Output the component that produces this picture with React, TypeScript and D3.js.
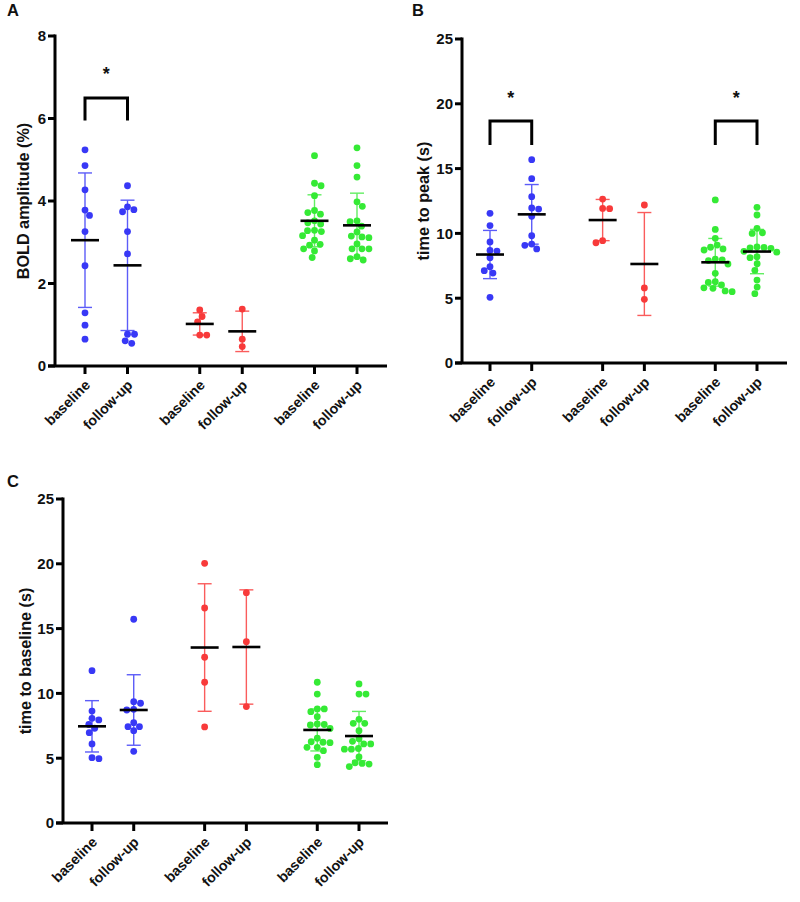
import React from 'react';
import * as d3 from 'd3';

// ---------- categories ----------
const CATEGORIES = ['baseline', 'follow-up', 'baseline', 'follow-up', 'baseline', 'follow-up'];
const CATEGORY_POS = [0, 1, 2.7, 3.7, 5.4, 6.4];
const DOT_COLORS = ['#3838f6', '#3838f6', '#f83a3a', '#f83a3a', '#35ea35', '#35ea35'];
const BAR_COLORS = ['#5c5cf8', '#5c5cf8', '#fa5c5c', '#fa5c5c', '#62ee62', '#62ee62'];

// ---------- Panel A: BOLD amplitude (%) ----------
const ampBlueBase = [5.24, 4.86, 4.27, 3.78, 3.65, 3.26, 2.43, 1.29, 0.99, 0.65];
const ampBlueFollow = [4.37, 3.86, 3.79, 3.74, 3.26, 2.72, 0.77, 0.77, 0.61, 0.55];
const ampRedBase = [1.36, 1.2, 1.07, 0.75, 0.75];
const ampRedFollow = [1.38, 0.65, 0.47];
const ampGreenBase = [5.1, 4.43, 4.37, 4.13, 3.77, 3.72, 3.68, 3.52, 3.47, 3.44, 3.29, 3.28, 3.26, 3.16, 3.05, 2.93, 2.95, 2.84, 2.79, 2.63];
const ampGreenFollow = [5.29, 4.86, 4.58, 3.98, 3.87, 3.52, 3.5, 3.39, 3.25, 3.15, 3.13, 3.11, 2.96, 2.84, 2.84, 2.84, 2.65, 2.6, 2.57];
const ampMeans = [3.05, 2.44, 1.02, 0.84, 3.52, 3.41];
const ampSDs = [1.63, 1.58, 0.27, 0.49, 0.63, 0.78];
const ampTicks = [0, 2, 4, 6, 8];

// ---------- Panel B: time to peak (s) ----------
const ttpBlueBase = [11.55, 10.6, 9.34, 8.64, 8.69, 8.13, 7.43, 7.12, 6.94, 5.07];
const ttpBlueFollow = [15.69, 14.22, 12.83, 11.96, 11.88, 11.32, 9.82, 9.18, 8.8, 9.08];
const ttpRedBase = [12.65, 11.91, 11.93, 9.28, 9.44];
const ttpRedFollow = [12.19, 5.79, 4.91];
const ttpGreenBase = [12.58, 10.31, 9.62, 9.1, 8.93, 8.72, 8.8, 8.02, 7.95, 7.9, 7.64, 6.92, 6.27, 6.22, 6.02, 5.76, 5.8, 5.56, 5.5];
const ttpGreenFollow = [12.01, 11.42, 10.39, 10.05, 10.0, 8.92, 8.88, 8.85, 8.95, 8.62, 8.55, 8.2, 8.13, 7.66, 7.15, 6.4, 5.86, 5.35];
const ttpMeans = [8.37, 11.47, 11.03, 7.64, 7.77, 8.6];
const ttpSDs = [1.86, 2.3, 1.59, 3.97, 1.84, 1.71];
const ttpTicks = [0, 5, 10, 15, 20, 25];

// ---------- Panel C: time to baseline (s) ----------
const ttbBlueBase = [11.75, 8.64, 8.08, 7.95, 7.6, 7.31, 6.97, 6.1, 4.96, 5.04];
const ttbBlueFollow = [15.72, 9.24, 9.36, 8.72, 8.77, 7.43, 7.43, 7.74, 7.12, 5.53];
const ttbRedBase = [20.04, 16.59, 12.79, 10.86, 7.41];
const ttbRedFollow = [17.77, 13.99, 8.98];
const ttbGreenBase = [10.86, 9.95, 8.8, 8.8, 8.59, 8.2, 7.64, 7.56, 7.6, 7.3, 6.54, 6.27, 6.23, 6.2, 5.84, 5.84, 5.58, 5.07, 4.5];
const ttbGreenFollow = [10.73, 9.95, 9.95, 8.0, 7.69, 7.69, 7.12, 6.5, 6.1, 6.1, 6.3, 5.7, 5.7, 5.75, 5.1, 4.35, 4.6, 4.55, 4.65];
const ttbMeans = [7.46, 8.72, 13.54, 13.58, 7.18, 6.71];
const ttbSDs = [1.98, 2.72, 4.92, 4.41, 1.62, 1.9];
const ttbTicks = [0, 5, 10, 15, 20, 25];

const FONT = "Arial, 'Liberation Sans', Helvetica, sans-serif";

type Bracket = { from: number; to: number; top: number; leg: number; star: number };
type Panel = {
  letter: string; lx: number; ly: number;
  yLabel: string; yLabelX: number;
  domain: [number, number]; ticks: number[];
  left: number; right: number; top: number; bottom: number; x0: number; x1: number;
  series: number[][]; means: number[]; sds: number[]; brackets: Bracket[];
};

const panels: Panel[] = [
  {
    letter: 'A', lx: 7, ly: 16, yLabel: 'BOLD amplitude (%)', yLabelX: 29,
    domain: [0, 8], ticks: ampTicks,
    left: 55, right: 387, top: 36, bottom: 366, x0: 85, x1: 357,
    series: [ampBlueBase, ampBlueFollow, ampRedBase, ampRedFollow, ampGreenBase, ampGreenFollow],
    means: ampMeans, sds: ampSDs,
    brackets: [{ from: 0, to: 1, top: 6.5, leg: 5.95, star: 7.18 }],
  },
  {
    letter: 'B', lx: 412, ly: 16, yLabel: 'time to peak (s)', yLabelX: 429,
    domain: [0, 25], ticks: ttpTicks,
    left: 462, right: 787, top: 39, bottom: 363, x0: 490, x1: 757,
    series: [ttpBlueBase, ttpBlueFollow, ttpRedBase, ttpRedFollow, ttpGreenBase, ttpGreenFollow],
    means: ttpMeans, sds: ttpSDs,
    brackets: [
      { from: 0, to: 1, top: 18.67, leg: 16.82, star: 20.75 },
      { from: 4, to: 5, top: 18.67, leg: 16.82, star: 20.75 },
    ],
  },
  {
    letter: 'C', lx: 7, ly: 487, yLabel: 'time to baseline  (s)', yLabelX: 31,
    domain: [0, 25], ticks: ttbTicks,
    left: 63, right: 388, top: 499, bottom: 823, x0: 92, x1: 359,
    series: [ttbBlueBase, ttbBlueFollow, ttbRedBase, ttbRedFollow, ttbGreenBase, ttbGreenFollow],
    means: ttbMeans, sds: ttbSDs,
    brackets: [],
  },
];

const DOT_R = 3.4;
const COLL = 7;

function swarm(values: number[], y: (v: number) => number): number[] {
  const order = values.map((_, i) => i).sort((a, b) => values[b] - values[a]);
  const placed: { x: number; y: number }[] = [];
  const xs: number[] = new Array(values.length).fill(0);
  let flip = 1;
  order.forEach((i) => {
    const py = y(values[i]);
    const intervals = placed
      .filter((p) => Math.abs(p.y - py) < COLL)
      .map((p) => {
        const w = Math.sqrt(COLL * COLL - (p.y - py) ** 2);
        return [p.x - w, p.x + w];
      });
    const cands = [0];
    intervals.forEach(([a, b]) => cands.push(a, b));
    cands.sort((a, b) => Math.abs(a) - Math.abs(b) || (b - a) * flip);
    const ok = cands.find((c) => intervals.every(([a, b]) => c <= a + 1e-6 || c >= b - 1e-6)) ?? 0;
    if (ok !== 0) flip = -flip;
    xs[i] = ok;
    placed.push({ x: ok, y: py });
  });
  return xs;
}

function PanelView({ p }: { p: Panel }) {
  const y = d3.scaleLinear().domain(p.domain).range([p.bottom, p.top]);
  const x = d3.scaleLinear().domain([0, 6.4]).range([p.x0, p.x1]);
  const axisW = 3;
  return (
    <g>
      <text x={p.lx} y={p.ly} fontFamily={FONT} fontWeight="bold" fontSize={16.5} fill="#111">{p.letter}</text>
      <text
        transform={`translate(${p.yLabelX},${(p.top + p.bottom) / 2}) rotate(-90)`}
        textAnchor="middle" fontFamily={FONT} fontWeight="bold" fontSize={16.2} fill="#111"
      >{p.yLabel}</text>
      {p.ticks.map((t) => (
        <g key={t}>
          <line x1={p.left - 7} x2={p.left} y1={y(t)} y2={y(t)} stroke="#000" strokeWidth={axisW} />
          <text x={p.left - 9} y={y(t)} dy="0.36em" textAnchor="end" fontFamily={FONT} fontWeight="bold" fontSize={15} fill="#111">{t}</text>
        </g>
      ))}
      <line x1={p.left} x2={p.left} y1={p.top - 1.5} y2={p.bottom} stroke="#000" strokeWidth={axisW} />
      <line x1={p.left - 7} x2={p.right} y1={p.bottom} y2={p.bottom} stroke="#000" strokeWidth={axisW} />
      {CATEGORIES.map((c, i) => (
        <g key={i}>
          <line x1={x(CATEGORY_POS[i])} x2={x(CATEGORY_POS[i])} y1={p.bottom} y2={p.bottom + 8} stroke="#000" strokeWidth={axisW} />
          <text
            transform={`translate(${x(CATEGORY_POS[i]) + 6},${p.bottom + 20}) rotate(-45)`}
            textAnchor="end" fontFamily={FONT} fontWeight="bold" fontSize={14.2} fill="#111"
          >{c}</text>
        </g>
      ))}
      {p.series.map((vals, i) => {
        const cx = x(CATEGORY_POS[i]);
        const m = p.means[i];
        const s = p.sds[i];
        const xs = swarm(vals, (v) => y(v));
        return (
          <g key={i}>
            <line x1={cx} x2={cx} y1={y(m + s)} y2={y(Math.max(p.domain[0], m - s))} stroke={BAR_COLORS[i]} strokeWidth={1.4} />
            <line x1={cx - 7} x2={cx + 7} y1={y(m + s)} y2={y(m + s)} stroke={BAR_COLORS[i]} strokeWidth={1.4} />
            <line x1={cx - 7} x2={cx + 7} y1={y(m - s)} y2={y(m - s)} stroke={BAR_COLORS[i]} strokeWidth={1.4} />
            {vals.map((v, j) => (
              <circle key={j} cx={cx + xs[j]} cy={y(v)} r={DOT_R} fill={DOT_COLORS[i]} />
            ))}
            <line x1={cx - 14} x2={cx + 14} y1={y(m)} y2={y(m)} stroke="#000" strokeWidth={2.6} />
          </g>
        );
      })}
      {p.brackets.map((b, k) => {
        const xa = x(CATEGORY_POS[b.from]);
        const xb = x(CATEGORY_POS[b.to]);
        return (
          <g key={k}>
            <path
              d={`M${xa},${y(b.leg)}V${y(b.top)}H${xb}V${y(b.leg)}`}
              fill="none" stroke="#000" strokeWidth={3}
            />
            <text x={(xa + xb) / 2} y={y(b.star) + 10} textAnchor="middle" fontFamily={FONT} fontWeight="bold" fontSize={18} fill="#111">*</text>
          </g>
        );
      })}
    </g>
  );
}

export default function App() {
  return (
    <svg
      width={800}
      height={902}
      viewBox="0 0 800 902"
      style={{ position: 'absolute', left: 0, top: 0, background: '#fff' }}
    >
      <rect x={0} y={0} width={800} height={902} fill="#fff" />
      {panels.map((p) => (
        <PanelView key={p.letter} p={p} />
      ))}
    </svg>
  );
}
